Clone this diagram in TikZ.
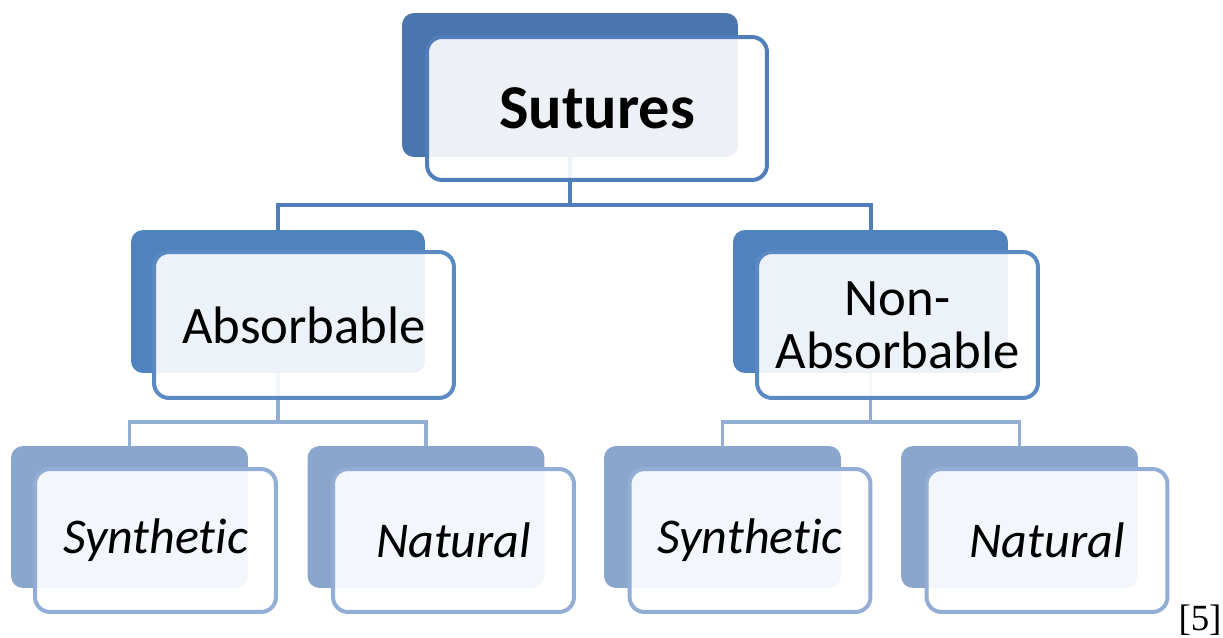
\documentclass[tikz,border=0pt]{standalone}
\usepackage{fontspec}
\setmainfont{Carlito}[Ligatures=NoCommon]
\newfontfamily\citefont{Liberation Serif}
\usepackage{tikz}
\definecolor{topdark}{HTML}{4A76AD}
\definecolor{midark}{HTML}{5083BE}
\definecolor{lowdark}{HTML}{8BA6CD}
\definecolor{topline}{HTML}{4F7EBA}
\definecolor{midline}{HTML}{5A89C4}
\definecolor{lowline}{HTML}{93AED4}
\usetikzlibrary{backgrounds}

\begin{document}
\begin{tikzpicture}[x=0.02cm, y=-0.02cm,
        backbox/.style={rounded corners=0.24cm, inner sep=0pt},
        frontbox/.style={rounded corners=0.3cm, fill=white, fill opacity=0.9, text opacity=1,
            line width=0.08cm, inner sep=0pt, align=center},
        link1/.style={draw=topline, line width=0.08cm},
        link2/.style={draw=lowline, line width=0.07cm}]

        \useasboundingbox (0,0) rectangle (1223,638);

        \node[backbox, fill=topdark, minimum width=6.72cm, minimum height=2.88cm] (sut-b) at (570,85) {};
        \node[frontbox, draw=topline, minimum width=6.8cm, minimum height=2.86cm,
            font=\bfseries\fontsize{35.5}{36}\selectfont] (sut) at (597,108.5) {Sutures};

        \node[backbox, fill=midark, minimum width=5.88cm, minimum height=2.86cm] (abs-b) at (278,301.5) {};
        \node[frontbox, draw=midline, minimum width=6.0cm, minimum height=2.92cm,
            font=\fontsize{30}{30}\selectfont] (abs) at (304,325) {Absorbable};
        \node[backbox, fill=midark, minimum width=5.5cm, minimum height=2.86cm] (non-b) at (870.5,301.5) {};
        \node[frontbox, draw=midline, minimum width=5.62cm, minimum height=2.92cm,
            font=\fontsize{30}{30}\selectfont] (non) at (897.5,325) {Non-\\Absorbable};

        \node[backbox, fill=lowdark, minimum width=4.74cm, minimum height=2.84cm] (syn1-b) at (129.5,517) {};
        \node[frontbox, draw=lowline, minimum width=4.82cm, minimum height=2.86cm,
            font=\itshape\fontsize{28.5}{30}\selectfont] (syn1) at (155.5,540.5) {Synthetic};
        \node[backbox, fill=lowdark, minimum width=4.74cm, minimum height=2.84cm] (nat1-b) at (426,517) {};
        \node[frontbox, draw=lowline, minimum width=4.82cm, minimum height=2.86cm,
            font=\itshape\fontsize{28.5}{30}\selectfont] (nat1) at (453.5,540.5) {Natural};
        \node[backbox, fill=lowdark, minimum width=4.74cm, minimum height=2.84cm] (syn2-b) at (722.5,517) {};
        \node[frontbox, draw=lowline, minimum width=4.82cm, minimum height=2.86cm,
            font=\itshape\fontsize{28.5}{30}\selectfont] (syn2) at (750,540.5) {Synthetic};
        \node[backbox, fill=lowdark, minimum width=4.74cm, minimum height=2.84cm] (nat2-b) at (1019.5,517) {};
        \node[frontbox, draw=lowline, minimum width=4.82cm, minimum height=2.86cm,
            font=\itshape\fontsize{28.5}{30}\selectfont] (nat2) at (1047,540.5) {Natural};

        \node[font=\citefont\fontsize{21}{24}\selectfont, inner sep=0pt] (cite) at (1200,620) {[5]};

        \coordinate (j1) at (570,205);
        \coordinate (j2) at (278,422);
        \coordinate (j3) at (870.5,422);

        \begin{scope}[on background layer]
            \fill[white] (0,0) rectangle (1223,638);
            \draw[link1] (sut-b) -- (j1);
            \draw[link1] (abs-b.north) |- (j1) -| (non-b.north);
            \draw[link2] (abs-b) -- (j2);
            \draw[link2] (syn1-b.north) |- (j2) -| (nat1-b.north);
            \draw[link2] (non-b) -- (j3);
            \draw[link2] (syn2-b.north) |- (j3) -| (nat2-b.north);
        \end{scope}

    \end{tikzpicture}
\end{document}
